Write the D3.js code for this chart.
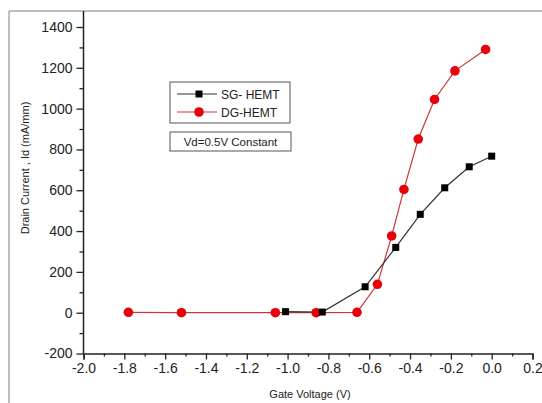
<!DOCTYPE html>
<html>
  <head>
    <meta charset="utf-8">
    <title>Drain Current vs Gate Voltage</title>
    <script src="https://d3js.org/d3.v7.min.js"></script>
    <style>
      body { margin: 0; background: #fff; }
      svg { display: block; font-family: "Liberation Sans", Arial, sans-serif; }
    </style>
  </head>
  <body>
    <div id="chart"></div>
    <script>
      // series
      var sgVg = [-1.01, -0.83, -0.62, -0.47, -0.35, -0.23, -0.11, 0.0];
      var sgId = [5, 3, 127, 320, 482, 612, 715, 767];
      var dgVg = [-1.78, -1.52, -1.06, -0.86, -0.66, -0.56, -0.49, -0.43, -0.36, -0.28, -0.18, -0.03];
      var dgId = [2, 0, 0, 0, 2, 139, 376, 604, 851, 1045, 1185, 1290];
      var xTicks = [-2.0, -1.8, -1.6, -1.4, -1.2, -1.0, -0.8, -0.6, -0.4, -0.2, 0.0, 0.2];
      var yTicks = [-200, 0, 200, 400, 600, 800, 1000, 1200, 1400];

      var width = 542, height = 403;

      var svg = d3.select("#chart").append("svg")
                  .attr("width", width)
                  .attr("height", height);

      var x = d3.scaleLinear().domain([-2.0, 0.2]).range([83.5, 532.5]);
      var y = d3.scaleLinear().domain([-200, 1400]).range([353.5, 27]);

      // outer frame (top + left only, as in the scan)
      svg.append("line").attr("x1", 9).attr("x2", width).attr("y1", 11).attr("y2", 11)
         .attr("stroke", "#a8a8a8").attr("stroke-width", 1.5);
      svg.append("line").attr("x1", 9).attr("x2", 9).attr("y1", 11).attr("y2", height)
         .attr("stroke", "#a8a8a8").attr("stroke-width", 1.5);

      // minor ticks halfway between the major ones
      var xMinor = d3.range(xTicks.length - 1).map(function(i) { return (xTicks[i] + xTicks[i + 1]) / 2; });
      var yMinor = d3.range(yTicks.length - 1).map(function(i) { return (yTicks[i] + yTicks[i + 1]) / 2; });

      var xAxis = svg.append("g").attr("transform", "translate(0," + y(-200) + ")")
          .call(d3.axisBottom(x).tickValues(xTicks).tickSize(6).tickPadding(4)
                .tickFormat(function(d) { return d.toFixed(1); }));
      svg.append("g").attr("transform", "translate(0," + y(-200) + ")")
          .call(d3.axisBottom(x).tickValues(xMinor).tickSize(3).tickFormat(""))
          .select(".domain").remove();

      var yAxis = svg.append("g").attr("transform", "translate(" + x(-2.0) + ",0)")
          .call(d3.axisLeft(y).tickValues(yTicks).tickSize(7).tickPadding(4)
                .tickFormat(function(d) { return String(d); }));
      svg.append("g").attr("transform", "translate(" + x(-2.0) + ",0)")
          .call(d3.axisLeft(y).tickValues(yMinor).tickSize(4).tickFormat(""))
          .select(".domain").remove();

      // y axis line runs up to the frame
      yAxis.select(".domain").remove();
      svg.append("line").attr("x1", x(-2.0)).attr("x2", x(-2.0))
         .attr("y1", 11).attr("y2", y(-200))
         .attr("stroke", "#222").attr("stroke-width", 1.5);
      xAxis.select(".domain").attr("stroke", "#222").attr("stroke-width", 1.5);

      svg.selectAll(".tick line").attr("stroke", "#222").attr("stroke-width", 1.3);
      svg.selectAll(".tick text").attr("fill", "#222")
         .style("font-size", "14px").style("font-family", "'Liberation Sans', Arial, sans-serif");

      // axis titles
      svg.append("text").attr("x", 310).attr("y", 398)
         .attr("text-anchor", "middle").style("font-size", "11px").attr("fill", "#222")
         .text("Gate Voltage (V)");
      svg.append("text").attr("transform", "translate(29,168) rotate(-90)")
         .attr("text-anchor", "middle").style("font-size", "11px").attr("fill", "#222")
         .text("Drain Current , Id (mA/mm)");

      var line = d3.line().x(function(d) { return x(d[0]); }).y(function(d) { return y(d[1]); });
      var sg = sgVg.map(function(v, i) { return [v, sgId[i]]; });
      var dg = dgVg.map(function(v, i) { return [v, dgId[i]]; });

      svg.append("path").datum(dg).attr("d", line)
         .attr("fill", "none").attr("stroke", "#c8383a").attr("stroke-width", 1.2);
      svg.append("path").datum(sg).attr("d", line)
         .attr("fill", "none").attr("stroke", "#333").attr("stroke-width", 1.2);

      svg.selectAll("circle.dg").data(dg).enter().append("circle")
         .attr("class", "dg")
         .attr("cx", function(d) { return x(d[0]); })
         .attr("cy", function(d) { return y(d[1]); })
         .attr("r", 4.8).attr("fill", "#e8000b");

      svg.selectAll("rect.sg").data(sg).enter().append("rect")
         .attr("class", "sg")
         .attr("x", function(d) { return x(d[0]) - 3.5; })
         .attr("y", function(d) { return y(d[1]) - 3.5; })
         .attr("width", 7).attr("height", 7).attr("fill", "#000");

      // legend
      var lg = svg.append("g");
      lg.append("rect").attr("x", 170).attr("y", 82).attr("width", 120).attr("height", 41)
        .attr("fill", "#fff").attr("stroke", "#555").attr("stroke-width", 1);
      lg.append("line").attr("x1", 177).attr("x2", 217).attr("y1", 94).attr("y2", 94)
        .attr("stroke", "#333").attr("stroke-width", 1.2);
      lg.append("rect").attr("x", 195.5).attr("y", 90.5).attr("width", 7).attr("height", 7).attr("fill", "#000");
      lg.append("text").attr("x", 221).attr("y", 98.5).style("font-size", "12px").attr("fill", "#222")
        .text("SG- HEMT");
      lg.append("line").attr("x1", 177).attr("x2", 217).attr("y1", 112).attr("y2", 112)
        .attr("stroke", "#c8383a").attr("stroke-width", 1.2);
      lg.append("circle").attr("cx", 199).attr("cy", 112).attr("r", 4.8).attr("fill", "#e8000b");
      lg.append("text").attr("x", 221).attr("y", 116.5).style("font-size", "12px").attr("fill", "#222")
        .text("DG-HEMT");

      lg.append("rect").attr("x", 170).attr("y", 132).attr("width", 121).attr("height", 19)
        .attr("fill", "#fff").attr("stroke", "#555").attr("stroke-width", 1);
      lg.append("text").attr("x", 230.5).attr("y", 146).attr("text-anchor", "middle")
        .style("font-size", "11.5px").attr("fill", "#222")
        .text("Vd=0.5V  Constant");
    </script>
  </body>
</html>
